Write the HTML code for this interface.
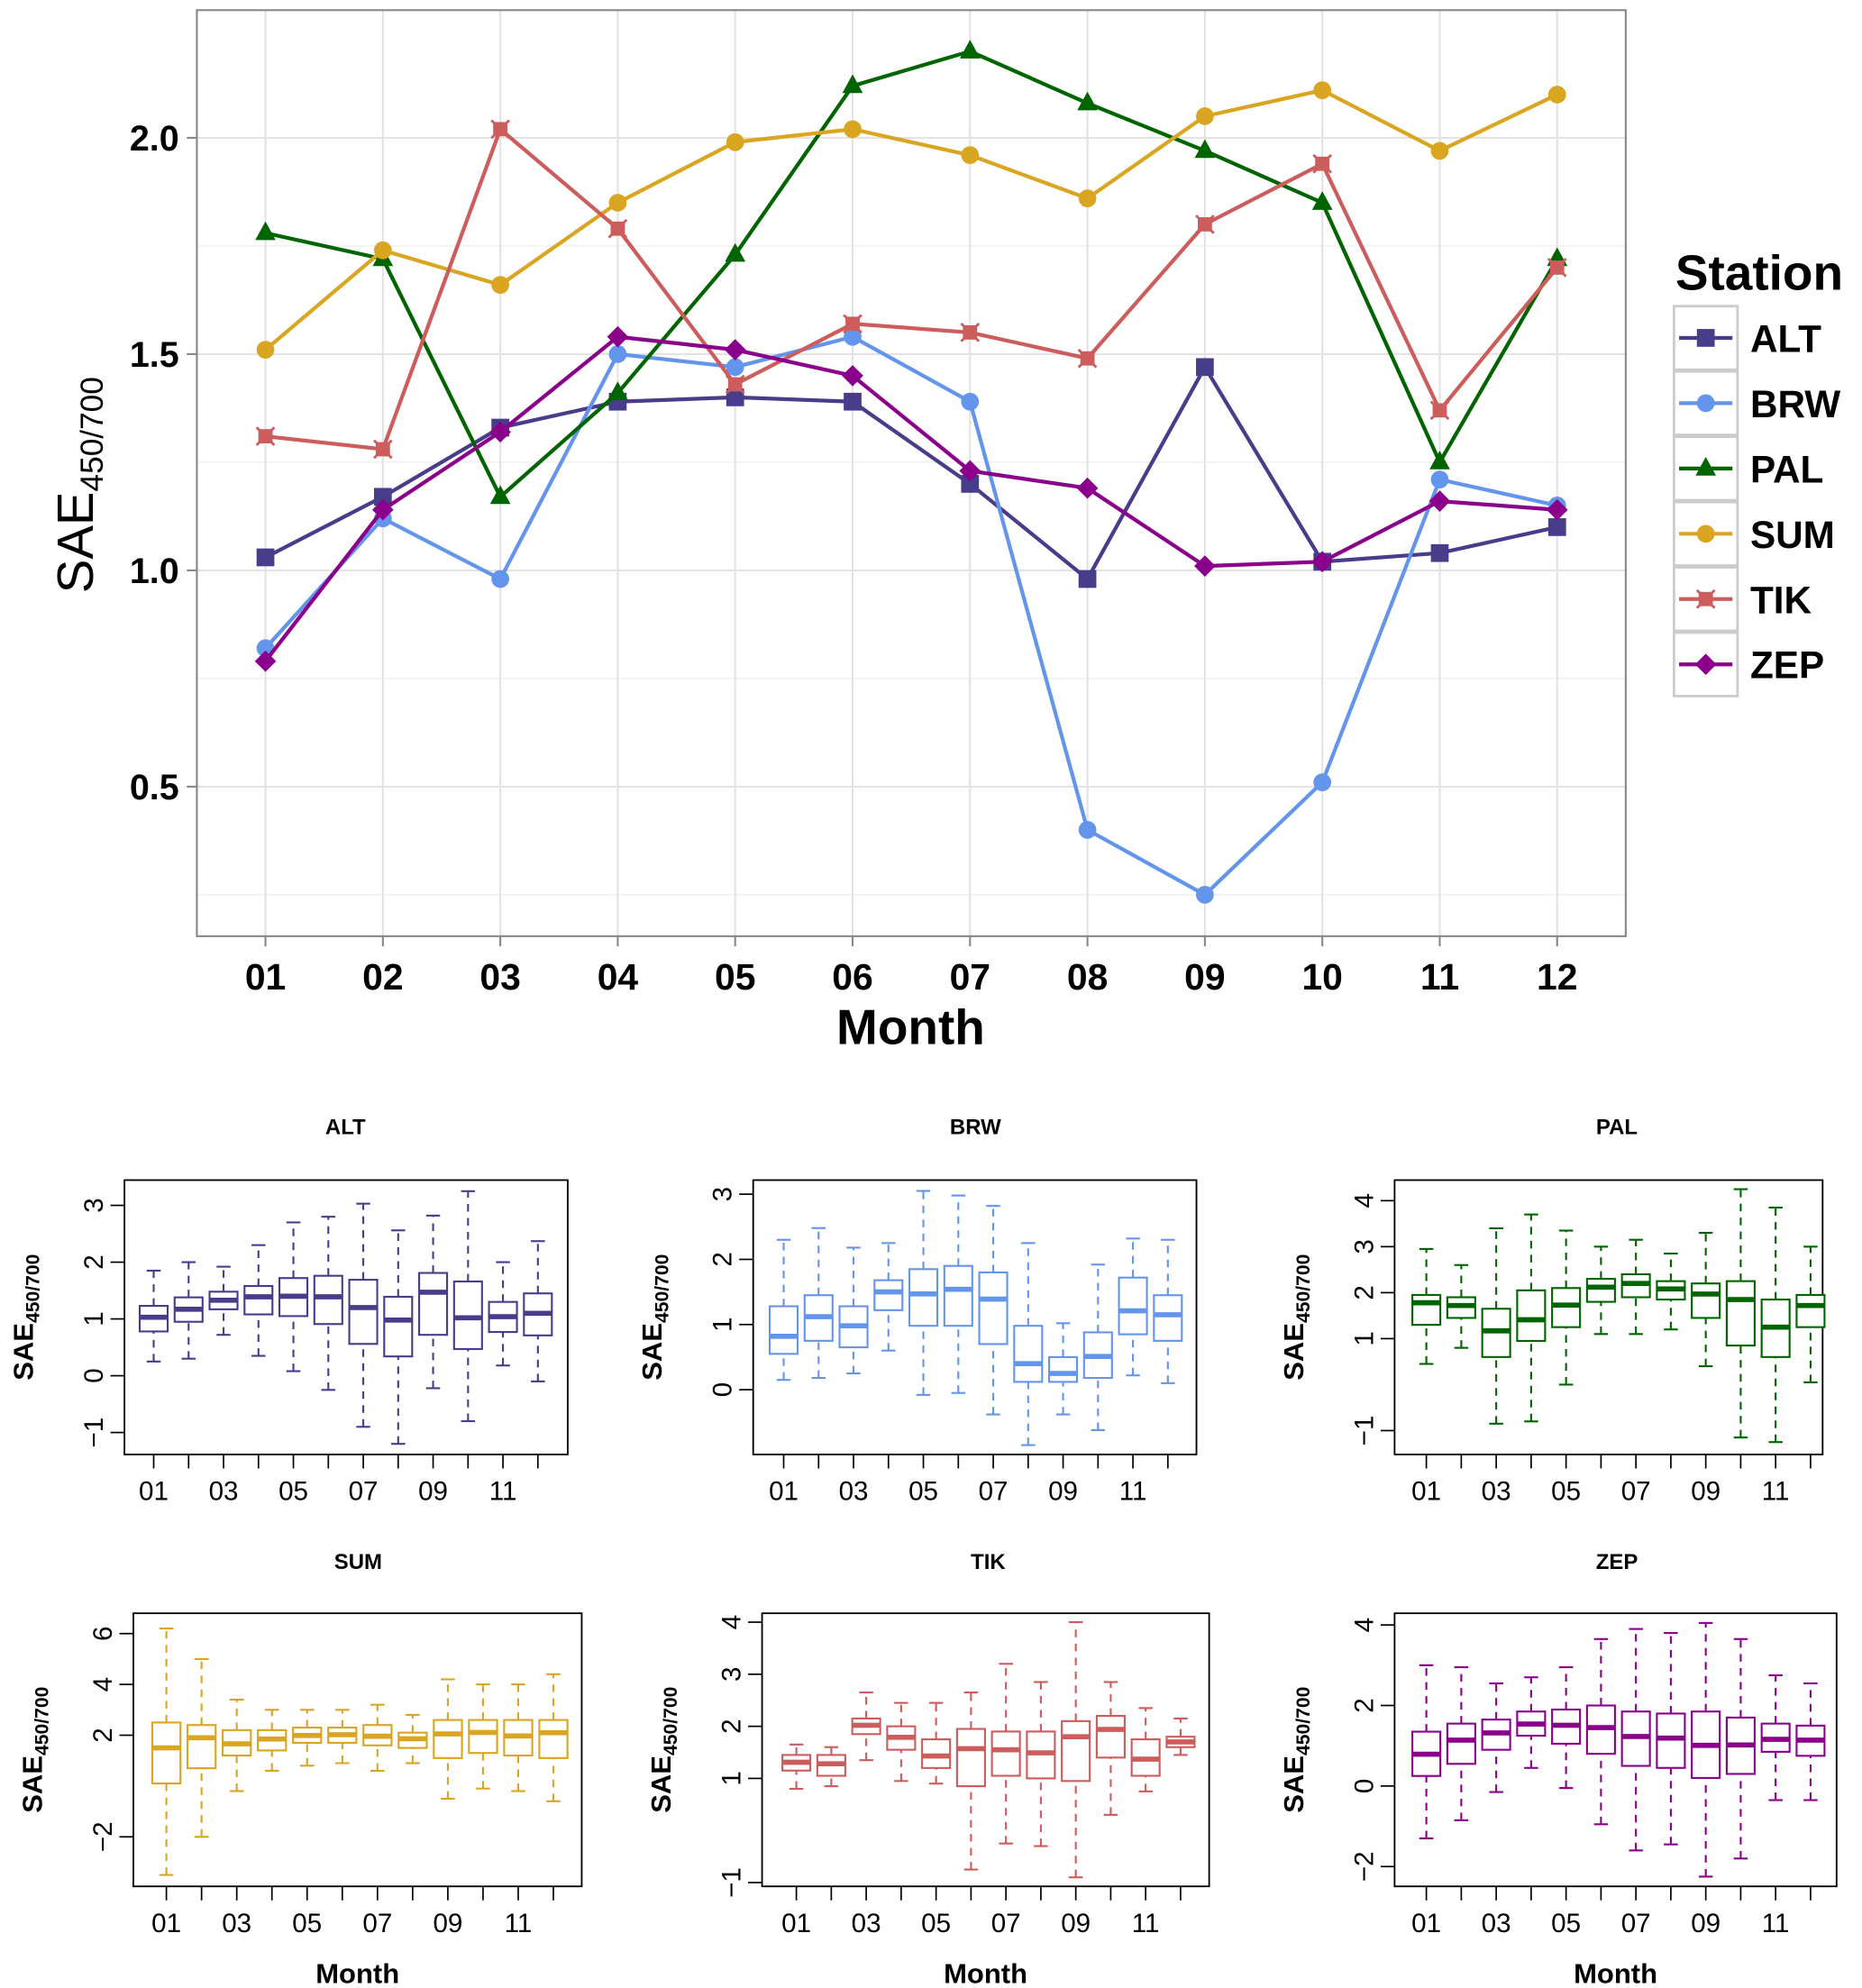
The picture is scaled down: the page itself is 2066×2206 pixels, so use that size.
<!DOCTYPE html>
<html><head><meta charset="utf-8"><style>
html,body{margin:0;padding:0;background:#fff}
svg{display:block}
text{font-family:"Liberation Sans",Arial,sans-serif}
</style></head><body>
<svg id="fig" width="2066" height="2206" viewBox="0 0 1466 1565" preserveAspectRatio="none" xmlns="http://www.w3.org/2000/svg"></svg>
<script>
const months=["01","02","03","04","05","06","07","08","09","10","11","12"];
const stations=["ALT","BRW","PAL","SUM","TIK","ZEP"];
const colors=["#483D8B","#6495ED","#006400","#DAA520","#CD5C5C","#8B008B"];
const altMean=[1.03,1.17,1.33,1.39,1.40,1.39,1.20,0.98,1.47,1.02,1.04,1.10];
const brwMean=[0.82,1.12,0.98,1.50,1.47,1.54,1.39,0.40,0.25,0.51,1.21,1.15];
const palMean=[1.78,1.72,1.17,1.41,1.73,2.12,2.20,2.08,1.97,1.85,1.25,1.72];
const sumMean=[1.51,1.74,1.66,1.85,1.99,2.02,1.96,1.86,2.05,2.11,1.97,2.10];
const tikMean=[1.31,1.28,2.02,1.79,1.43,1.57,1.55,1.49,1.80,1.94,1.37,1.70];
const zepMean=[0.79,1.14,1.32,1.54,1.51,1.45,1.23,1.19,1.01,1.02,1.16,1.14];
const mainYTicks=[0.5,1.0,1.5,2.0];
const mainYMinor=[0.25,0.75,1.25,1.75];
// box stats: [lowWhisker,q1,median,q3,highWhisker]
const altBox=[[0.25,0.78,1.03,1.23,1.85],[0.3,0.95,1.17,1.38,2.0],[0.72,1.17,1.33,1.48,1.92],[0.35,1.08,1.39,1.58,2.3],[0.08,1.05,1.40,1.72,2.7],[-0.25,0.91,1.39,1.76,2.8],[-0.9,0.56,1.20,1.69,3.03],[-1.2,0.34,0.98,1.39,2.56],[-0.22,0.72,1.47,1.81,2.82],[-0.8,0.47,1.02,1.66,3.25],[0.18,0.77,1.04,1.3,2.0],[-0.1,0.71,1.10,1.45,2.37]];
const brwBox=[[0.15,0.55,0.82,1.28,2.3],[0.18,0.75,1.12,1.45,2.48],[0.25,0.65,0.98,1.28,2.18],[0.6,1.22,1.50,1.68,2.25],[-0.08,0.98,1.47,1.85,3.05],[-0.05,0.98,1.54,1.9,2.98],[-0.38,0.7,1.39,1.8,2.82],[-0.85,0.12,0.40,0.98,2.25],[-0.38,0.12,0.25,0.5,1.02],[-0.62,0.18,0.51,0.88,1.92],[0.22,0.85,1.21,1.72,2.32],[0.1,0.75,1.15,1.45,2.3]];
const palBox=[[0.45,1.3,1.78,1.95,2.95],[0.8,1.45,1.72,1.9,2.6],[-0.85,0.6,1.17,1.65,3.4],[-0.8,0.95,1.41,2.05,3.7],[0.0,1.25,1.73,2.1,3.35],[1.1,1.8,2.12,2.3,3.0],[1.1,1.9,2.20,2.4,3.15],[1.2,1.85,2.08,2.25,2.85],[0.4,1.45,1.97,2.2,3.3],[-1.15,0.85,1.85,2.25,4.25],[-1.25,0.6,1.25,1.85,3.85],[0.05,1.25,1.72,1.95,3.0]];
const sumBox=[[-3.5,0.1,1.5,2.5,6.2],[-2,0.7,1.9,2.4,5],[-0.2,1.2,1.66,2.2,3.4],[0.6,1.4,1.85,2.2,3.0],[0.8,1.7,1.99,2.3,3.0],[0.9,1.7,2.02,2.3,3.0],[0.6,1.6,1.96,2.4,3.2],[0.9,1.5,1.86,2.1,2.8],[-0.5,1.1,2.05,2.6,4.2],[-0.1,1.3,2.11,2.6,4.0],[-0.2,1.2,1.97,2.6,4.0],[-0.6,1.1,2.10,2.6,4.4]];
const tikBox=[[0.8,1.15,1.31,1.45,1.65],[0.85,1.05,1.28,1.45,1.6],[1.35,1.85,2.02,2.15,2.65],[0.95,1.55,1.79,2.0,2.45],[0.9,1.2,1.43,1.75,2.45],[-0.75,0.85,1.57,1.95,2.65],[-0.25,1.05,1.55,1.9,3.2],[-0.3,1.0,1.49,1.9,2.85],[-0.9,0.95,1.80,2.1,4.0],[0.3,1.4,1.94,2.2,2.85],[0.75,1.05,1.37,1.75,2.35],[1.45,1.6,1.70,1.8,2.15]];
const zepBox=[[-1.3,0.25,0.79,1.35,3.0],[-0.85,0.55,1.14,1.55,2.95],[-0.15,0.9,1.32,1.65,2.55],[0.45,1.25,1.54,1.85,2.7],[-0.05,1.05,1.51,1.9,2.95],[-0.95,0.8,1.45,2.0,3.65],[-1.6,0.5,1.23,1.85,3.9],[-1.45,0.45,1.19,1.8,3.8],[-2.25,0.2,1.01,1.85,4.05],[-1.8,0.3,1.02,1.7,3.65],[-0.35,0.85,1.16,1.55,2.75],[-0.35,0.75,1.14,1.5,2.55]];
const altTicks=[-1,0,1,2,3],brwTicks=[0,1,2,3],palTicks=[-1,1,2,3,4],sumTicks=[-2,2,4,6],tikTicks=[-1,1,2,3,4],zepTicks=[-2,0,2,4];

const svg=document.getElementById('fig');
const NS="http://www.w3.org/2000/svg";
function el(tag,attrs,parent){const e=document.createElementNS(NS,tag);for(const k in attrs)e.setAttribute(k,attrs[k]);(parent||svg).appendChild(e);return e;}
function txt(s,attrs,parent){const e=el('text',attrs,parent);e.textContent=s;return e;}

// ===== main chart =====
const means=[altMean,brwMean,palMean,sumMean,tikMean,zepMean];
const mx=i=>209+i*(1226-209)/11;
const my=v=>449-(v-1)*340.5;
const main=el('g',{});


el('rect',{x:155,y:8,width:1125,height:729,fill:'#fff'},main);
mainYMinor.forEach(v=>{const l=el('line',{x1:155,x2:1280,y1:my(v),y2:my(v),stroke:'#f2f2f2','stroke-width':1.2},main);});
mainYTicks.forEach(v=>{const l=el('line',{x1:155,x2:1280,y1:my(v),y2:my(v),stroke:'#e3e3e3','stroke-width':1.5},main);});
months.forEach((m,i)=>{el('line',{x1:mx(i),x2:mx(i),y1:8,y2:737,stroke:'#e3e3e3','stroke-width':1.5},main);});
const fr=el('rect',{x:155,y:8,width:1125,height:729,fill:'none',stroke:'#888','stroke-width':1.5},main);

mainYTicks.forEach(v=>{const t=txt(v.toFixed(1),{x:141,y:my(v)+10,'text-anchor':'end','font-size':28,'font-weight':'bold'},main);el('line',{x1:147,x2:155,y1:my(v),y2:my(v),stroke:'#888','stroke-width':1.5},main);});
months.forEach((m,i)=>{const t=txt(m,{x:mx(i),y:779,'text-anchor':'middle','font-size':29,'font-weight':'bold'},main);el('line',{x1:mx(i),x2:mx(i),y1:737,y2:745,stroke:'#888','stroke-width':1.5},main);});
const xt=txt('Month',{x:717,y:822,'text-anchor':'middle','font-size':39,'font-weight':'bold'},main);

const yt=el('text',{transform:'translate(73,467) rotate(-90)','font-size':40},main);

yt.innerHTML='SAE<tspan font-size="25" dy="8">450/700</tspan>';
function marker(k,x,y,c,g,s){
  if(k===0) return el('rect',{x:x-s,y:y-s,width:2*s,height:2*s,fill:c},g);
  if(k===1||k===3) return el('circle',{cx:x,cy:y,r:s,fill:c},g);
  if(k===2) return el('polygon',{points:`${x},${y-s*1.3} ${x+s*1.15},${y+s*0.8} ${x-s*1.15},${y+s*0.8}`,fill:c},g);
  if(k===4){const gg=el('g',{},g);el('rect',{x:x-s*0.8,y:y-s*0.8,width:1.6*s,height:1.6*s,fill:c},gg);el('path',{d:`M${x-s} ${y-s}L${x+s} ${y+s}M${x-s} ${y+s}L${x+s} ${y-s}`,stroke:c,'stroke-width':2},gg);return gg;}
  return el('polygon',{points:`${x},${y-s*1.2} ${x+s*1.2},${y} ${x},${y+s*1.2} ${x-s*1.2},${y}`,fill:c},g);
}
means.forEach((arr,k)=>{
  const g=el('g',{},main);
  
  
  el('polyline',{points:arr.map((v,i)=>mx(i)+','+my(v)).join(' '),fill:'none',stroke:colors[k],'stroke-width':3},g);
  arr.forEach((v,i)=>{const p=marker(k,mx(i),my(v),colors[k],g,7);});
});
// legend
const lg=el('g',{});

const lt=txt('Station',{x:1319,y:228,'font-size':39,'font-weight':'bold'},lg);

stations.forEach((s,k)=>{
  const cy=266+k*51.4;
  const e=el('g',{},lg);
  
  
  el('rect',{x:1318,y:cy-25,width:50,height:50,fill:'#fff',stroke:'#ccc','stroke-width':2},e);
  el('line',{x1:1322,x2:1364,y1:cy,y2:cy,stroke:colors[k],'stroke-width':3},e);
  marker(k,1343,cy,colors[k],e,7);
  txt(s,{x:1378,y:cy+11,'font-size':30,'font-weight':'bold'},e);
});

// ===== box panels =====
const boxes=[altBox,brwBox,palBox,sumBox,tikBox,zepBox];
const ticks=[altTicks,brwTicks,palTicks,sumTicks,tikTicks,zepTicks];
const P=[
 {x0:98,x1:447,y0:929,y1:1145,z:1083,u:44.7,m0:121,st:27.5,tx:272,ty:893,xl:false},
 {x0:593,x1:942,y0:929,y1:1145,z:1094,u:51.3,m0:617,st:27.5,tx:768,ty:893,xl:false},
 {x0:1098,x1:1435,y0:929,y1:1145,z:1090,u:36.2,m0:1123,st:27.5,tx:1273,ty:893,xl:false},
 {x0:105,x1:458,y0:1270,y1:1485,z:1406,u:20,m0:131,st:27.7,tx:282,ty:1235,xl:true},
 {x0:600,x1:952,y0:1270,y1:1485,z:1441,u:41,m0:627,st:27.5,tx:778,ty:1235,xl:true},
 {x0:1098,x1:1446,y0:1270,y1:1485,z:1406,u:31.7,m0:1123,st:27.5,tx:1273,ty:1235,xl:true}
];
P.forEach((p,k)=>{
  const c=colors[k];
  const g=el('g',{});
  
  
  const y=v=>p.z-v*p.u, x=i=>p.m0+i*p.st;
  const t=txt(stations[k],{x:p.tx,y:p.ty,'text-anchor':'middle','font-size':17,'font-weight':'bold'},g);
  
  el('rect',{x:p.x0,y:p.y0,width:p.x1-p.x0,height:p.y1-p.y0,fill:'none',stroke:'#000','stroke-width':1.3},g);
  ticks[k].forEach(v=>{
    el('line',{x1:p.x0-11,x2:p.x0,y1:y(v),y2:y(v),stroke:'#000','stroke-width':1.2},g);
    const tl=txt(v<0?'\u2212'+Math.abs(v):String(v),{transform:`translate(${p.x0-17},${y(v)}) rotate(-90)`,'text-anchor':'middle','font-size':21},g);
    
  });
  months.forEach((m,i)=>{
    el('line',{x1:x(i),x2:x(i),y1:p.y1,y2:p.y1+11,stroke:'#000','stroke-width':1.2},g);
    if(i%2===0){const tl=txt(m,{x:x(i),y:p.y1+36,'text-anchor':'middle','font-size':21},g);}
  });
  const ya=el('text',{transform:`translate(${p.x0-72},${(p.y0+p.y1)/2}) rotate(-90)`,'text-anchor':'middle','font-size':22,'font-weight':'bold'},g);
  
  ya.innerHTML='SAE<tspan font-size="15" dy="5">450/700</tspan>';
  if(p.xl){const xa=txt('Month',{x:(p.x0+p.x1)/2,y:1561,'text-anchor':'middle','font-size':22,'font-weight':'bold'},g);}
  const w=p.st*0.8/2;
  boxes[k].forEach((b,i)=>{
    const bg=el('g',{},g);
    
    
    const cx=x(i);
    el('line',{x1:cx,x2:cx,y1:y(b[0]),y2:y(b[1]),stroke:c,'stroke-width':1.5,'stroke-dasharray':'6,5'},bg);
    el('line',{x1:cx,x2:cx,y1:y(b[3]),y2:y(b[4]),stroke:c,'stroke-width':1.5,'stroke-dasharray':'6,5'},bg);
    el('line',{x1:cx-w/2,x2:cx+w/2,y1:y(b[0]),y2:y(b[0]),stroke:c,'stroke-width':1.5},bg);
    el('line',{x1:cx-w/2,x2:cx+w/2,y1:y(b[4]),y2:y(b[4]),stroke:c,'stroke-width':1.5},bg);
    el('rect',{x:cx-w,y:y(b[3]),width:2*w,height:y(b[1])-y(b[3]),fill:'#fff',stroke:c,'stroke-width':1.5},bg);
    el('line',{x1:cx-w,x2:cx+w,y1:y(b[2]),y2:y(b[2]),stroke:c,'stroke-width':4},bg);
  });
});
</script>
</body></html>
